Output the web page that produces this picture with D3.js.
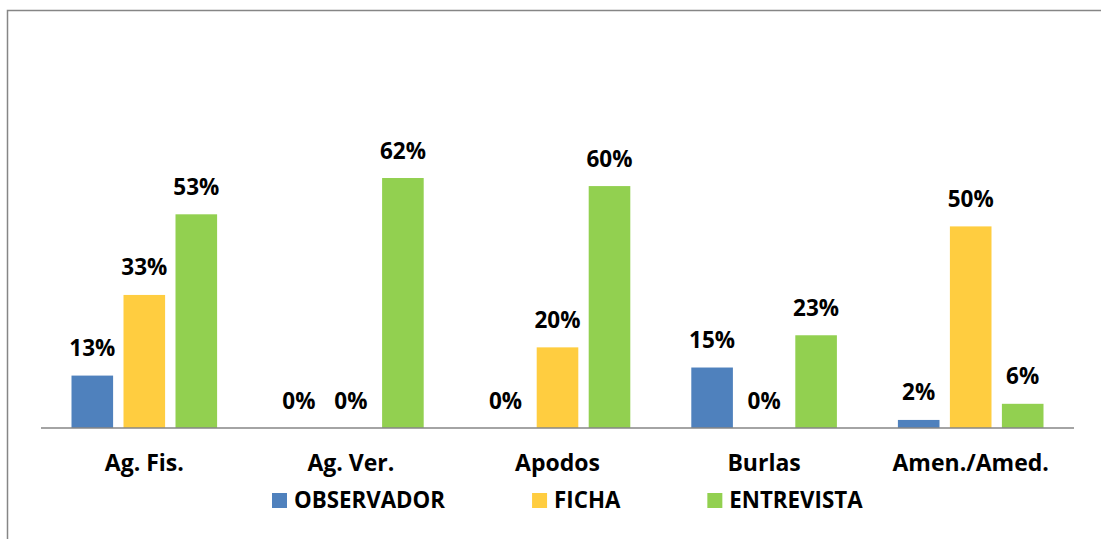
<!DOCTYPE html>
<html>
<head>
<meta charset="utf-8">
<script src="https://cdn.jsdelivr.net/npm/d3@7"></script>
<style>
    html, body { margin: 0; padding: 0; background: #fff; }
    svg text { font-family: "Open Sans", "Liberation Sans", sans-serif; font-weight: bold; fill: #000; }
</style>
</head>
<body>
<div id="chart"></div>
<script>
const categories = ["Ag. Fis.", "Ag. Ver.", "Apodos", "Burlas", "Amen./Amed."];
const seriesNames = ["OBSERVADOR", "FICHA", "ENTREVISTA"];
const observador = [13, 0, 0, 15, 2];
const ficha = [33, 0, 20, 0, 50];
const entrevista = [53, 62, 60, 23, 6];
const seriesColors = ["#4F81BD", "#FFCD40", "#92D050"];

window.addEventListener('load', () => {
    const width = 1101;
    const height = 539;
    const plot = {left: 41, right: 1074, base: 428};

    const series = [observador, ficha, entrevista];

    const svg = d3.select("#chart")
        .append("svg")
        .attr("width", width)
        .attr("height", height);

    // outer frame (top and left edges only are visible)
    svg.append("path")
        .attr("d", `M7.5,${height} L7.5,10.5 L${width},10.5`)
        .attr("fill", "none")
        .attr("stroke", "#868686")
        .attr("stroke-width", 1.5);

    const x0 = d3.scaleBand()
        .domain(categories)
        .range([plot.left, plot.right])
        .padding(0);

    const outer = 30.5;
    const x1 = d3.scaleBand()
        .domain(seriesNames)
        .range([outer, x0.bandwidth() - outer])
        .paddingInner(0.2);

    const y = d3.scaleLinear()
        .domain([0, 70])
        .range([plot.base, plot.base - 70 * 4.032]);

    const groups = svg.selectAll(".group")
        .data(categories)
        .join("g")
        .attr("class", "group")
        .attr("transform", d => `translate(${x0(d)},0)`);

    const cells = groups.selectAll(".cell")
        .data((c, ci) => seriesNames.map((s, si) => ({s, si, value: series[si][ci]})))
        .join("g")
        .attr("class", "cell");

    cells.append("rect")
        .attr("x", d => x1(d.s))
        .attr("y", d => y(d.value))
        .attr("width", x1.bandwidth())
        .attr("height", d => y(0) - y(d.value))
        .attr("fill", d => seriesColors[d.si]);

    cells.append("text")
        .attr("x", d => x1(d.s) + x1.bandwidth() / 2)
        .attr("y", d => y(d.value) - 19.5)
        .attr("text-anchor", "middle")
        .style("font-size", "22.5px")
        .text(d => `${d.value}%`);

    // baseline
    svg.append("line")
        .attr("x1", plot.left)
        .attr("x2", plot.right)
        .attr("y1", plot.base)
        .attr("y2", plot.base)
        .attr("stroke", "#868686")
        .attr("stroke-width", 1.5);

    // category labels
    svg.selectAll(".cat-label")
        .data(categories)
        .join("text")
        .attr("class", "cat-label")
        .attr("x", d => x0(d) + x0.bandwidth() / 2)
        .attr("y", 470.5)
        .attr("text-anchor", "middle")
        .style("font-size", "23px")
        .text(d => d);

    // legend
    const legend = svg.append("g").attr("transform", "translate(272,0)");
    let lx = 0;
    seriesNames.forEach((name, i) => {
        const item = legend.append("g").attr("transform", `translate(${lx},0)`);
        item.append("rect")
            .attr("x", 0)
            .attr("y", 493)
            .attr("width", 15)
            .attr("height", 15)
            .attr("fill", seriesColors[i]);
        const t = item.append("text")
            .attr("x", 22)
            .attr("y", 507.5)
            .style("font-size", "22.3px")
            .text(name);
        lx += 22 + t.node().getComputedTextLength() + 87;
    });
});
</script>
</body>
</html>
